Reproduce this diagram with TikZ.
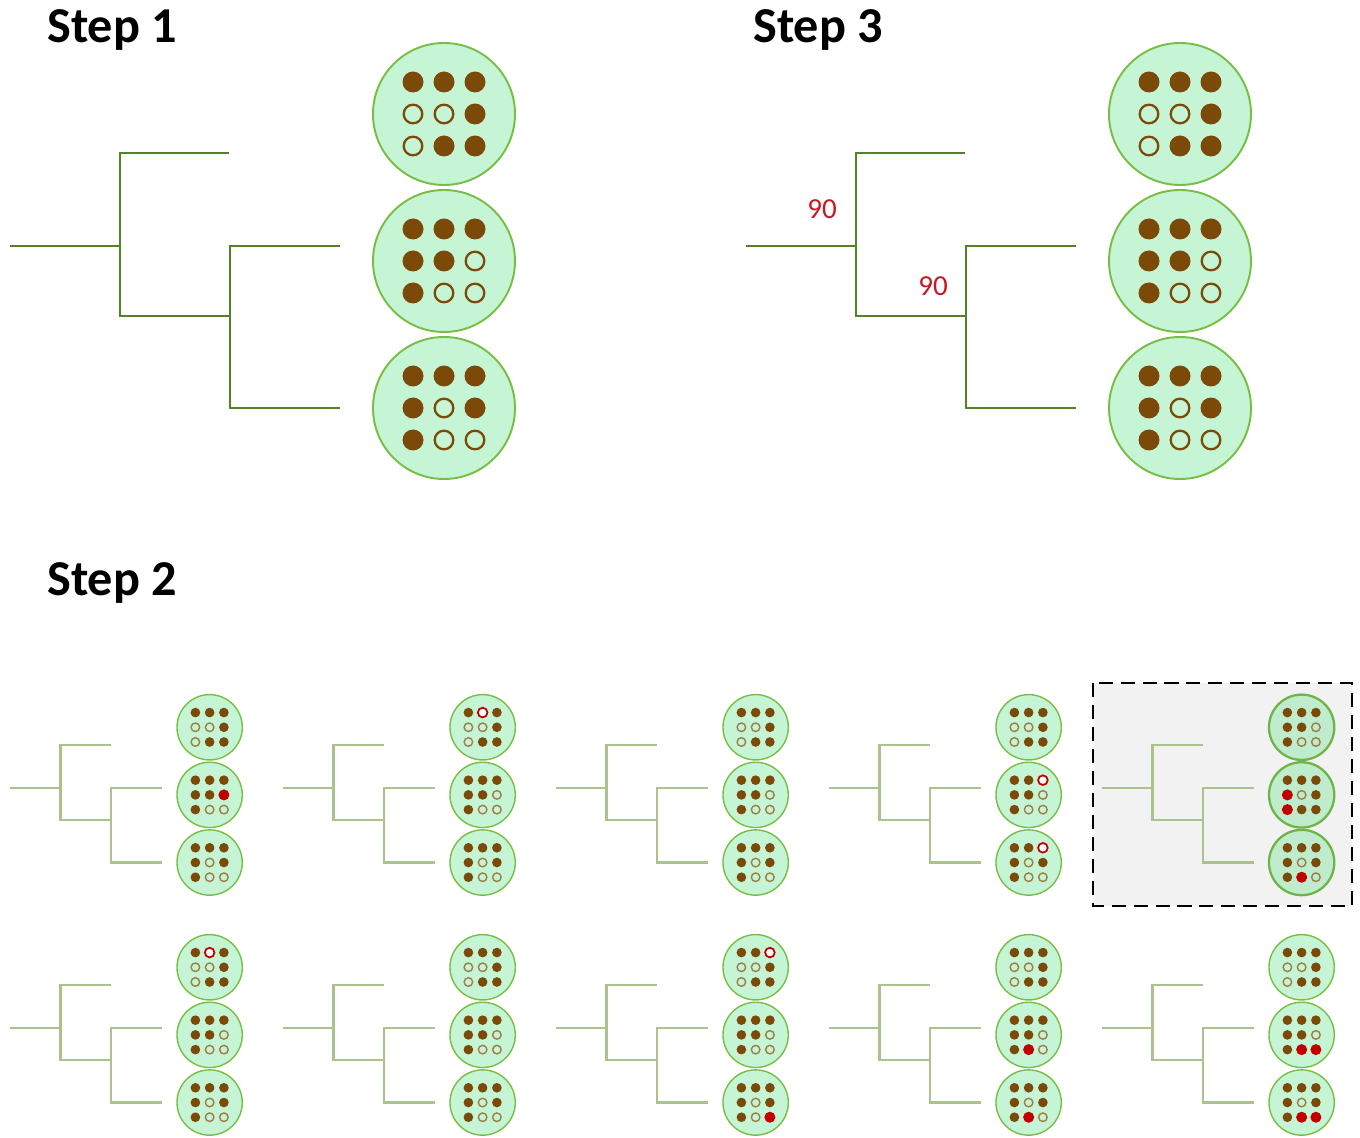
\documentclass[tikz,border=0pt]{standalone}
\usepackage{fontspec}
\newfontfamily\calibri{Carlito}
\definecolor{treeG}{RGB}{84,130,40}
\definecolor{treeL}{RGB}{170,195,140}
\definecolor{mint}{RGB}{198,245,213}
\definecolor{mintD}{RGB}{190,236,204}
\definecolor{mintB}{RGB}{120,190,70}
\definecolor{mintH}{RGB}{110,180,70}
\definecolor{brownD}{RGB}{123,74,8}
\definecolor{ringS}{RGB}{160,125,70}
\definecolor{redD}{RGB}{192,0,0}
\definecolor{lab}{RGB}{196,24,36}
\definecolor{boxfill}{RGB}{242,242,242}
\def\radF{10.5}\def\radO{9.3}\def\radR{12}\def\radW{10.5}
\def\treecol{treeG}\def\treelw{1.6pt}\def\bublw{1.1pt}\def\bubcol{mintB}\def\bubfill{mint}
\def\ringcol{brownD}\def\ringlw{1.3pt}\def\wlw{1.3pt}
\tikzset{
  treeline/.style={draw=\treecol, line width=\treelw},
  bubble/.style={draw=\bubcol, fill=\bubfill, line width=\bublw},
  dotF/.style={fill=brownD},
  dotO/.style={draw=\ringcol, line width=\ringlw},
  dotR/.style={fill=redD},
  dotW/.style={draw=redD, fill=white, line width=\wlw},
  title/.style={anchor=base west, inner sep=0pt, font=\calibri\bfseries\fontsize{28.6}{34}\selectfont},
  lbl/.style={anchor=base, inner sep=0pt, text=lab, font=\calibri\fontsize{16.5}{20}\selectfont},
  hlbox/.style={draw=black, fill=boxfill, line width=1.4pt, dash pattern=on 8pt off 4.5pt}
}
\newcommand\drawbubble[3]{%
  \draw[bubble] (#1,#2) circle (71);
  \foreach \ty [count=\i from 0] in #3 {
    \pgfmathtruncatemacro\cc{mod(\i,3)}
    \pgfmathtruncatemacro\rr{(\i-\cc)/3}
    \edef\rad{\csname rad\ty\endcsname}
    \path[dot\ty] ({#1+(\cc-1)*31},{#2+(\rr-1)*32}) circle (\rad);
  }}
\newcommand\treepanel[6]{%
  \begin{scope}[shift={(#1,#2)},scale=#3]
    \draw[treeline] (0,0) -- (110,0);
    \draw[treeline] (219,-93) -- (110,-93) -- (110,70) -- (220,70);
    \draw[treeline] (330,0) -- (220,0) -- (220,162) -- (330,162);
    \drawbubble{434}{-132}{#4}
    \drawbubble{434}{15}{#5}
    \drawbubble{434}{162}{#6}
  \end{scope}}
\def\pA{F,F,F,O,O,F,O,F,F}
\def\pB{F,F,F,F,F,O,F,O,O}
\def\pC{F,F,F,F,O,F,F,O,O}
\def\pBr{F,F,F,F,F,R,F,O,O}
\def\pAw{F,W,F,O,O,F,O,F,F}
\def\pBw{F,F,W,F,F,O,F,O,O}
\def\pCw{F,F,W,F,O,F,F,O,O}
\def\pAr{F,F,F,R,O,F,R,F,F}
\def\pCr{F,F,F,F,O,F,F,R,O}
\def\pAx{F,F,W,O,O,F,O,F,F}
\def\pCz{F,F,F,F,O,F,F,O,R}
\def\pBy{F,F,F,F,F,O,F,R,O}
\def\pByy{F,F,F,F,F,O,F,R,R}
\def\pCrr{F,F,F,F,O,F,F,R,R}
\begin{document}
\begin{tikzpicture}[x=0.02cm,y=-0.02cm]
\useasboundingbox (0,0) rectangle (1360,1138);
% titles
\node[title] (s1) at (47,43) {Step 1};
\node[title] (s3) at (753,43) {Step 3};
\node[title] (s2) at (47,596) {Step 2};
% big panels
\treepanel{10}{246}{1}{\pA}{\pB}{\pC}
\treepanel{746}{246}{1}{\pA}{\pB}{\pC}
\node[lbl] (l1) at (822,219) {90};
\node[lbl] (l2) at (933,296) {90};
% small panels
\def\treecol{treeL}\def\treelw{1.3pt}\def\bublw{0.8pt}
\def\ringcol{ringS}\def\ringlw{0.8pt}\def\wlw{1.0pt}
\treepanel{10}{788}{0.46}{\pA}{\pBr}{\pC}
\treepanel{283}{788}{0.46}{\pAw}{\pB}{\pC}
\treepanel{556}{788}{0.46}{\pA}{\pB}{\pC}
\treepanel{829}{788}{0.46}{\pA}{\pBw}{\pCw}
\draw[hlbox] (1093,683) rectangle (1352,906);
\begingroup
\def\bublw{1.3pt}\def\bubcol{mintH}\def\bubfill{mintD}
\treepanel{1102}{788}{0.46}{\pB}{\pAr}{\pCr}
\endgroup
\treepanel{10}{1028}{0.46}{\pAw}{\pB}{\pC}
\treepanel{283}{1028}{0.46}{\pA}{\pB}{\pC}
\treepanel{556}{1028}{0.46}{\pAx}{\pB}{\pCz}
\treepanel{829}{1028}{0.46}{\pA}{\pBy}{\pCr}
\treepanel{1102}{1028}{0.46}{\pA}{\pByy}{\pCrr}
\end{tikzpicture}
\end{document}
